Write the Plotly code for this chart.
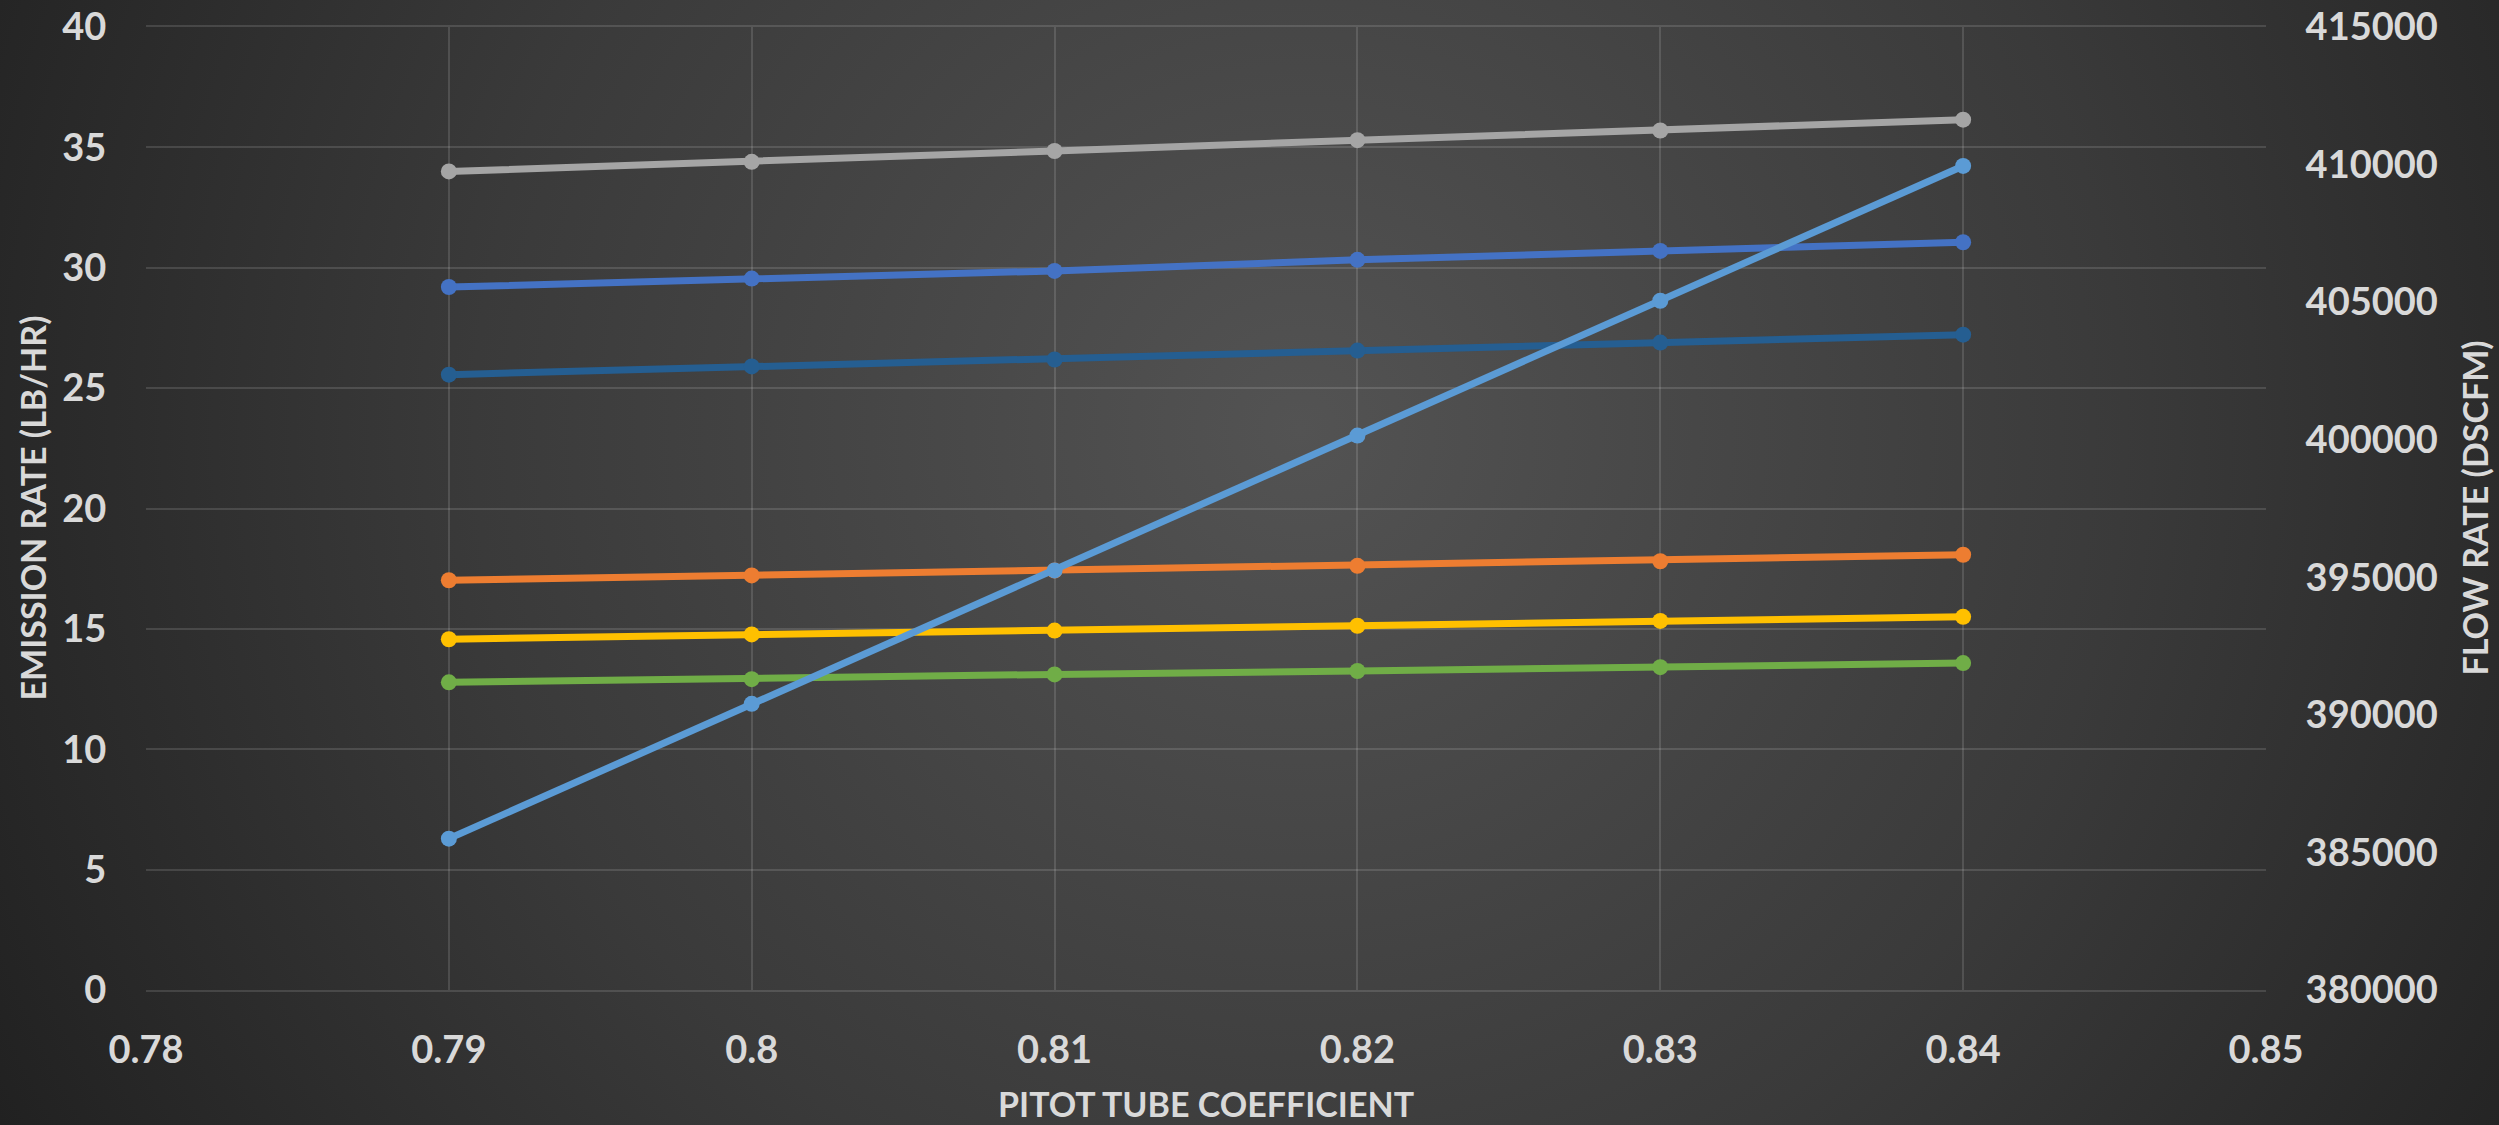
import base64
import plotly.graph_objects as go

# ---- data ----
pitot = [0.79, 0.80, 0.81, 0.82, 0.83, 0.84]
series_gray = [34.0, 34.4, 34.85, 35.3, 35.7, 36.15]
series_blue = [29.2, 29.55, 29.87, 30.33, 30.7, 31.06]
series_darkblue = [25.56, 25.9, 26.19, 26.56, 26.89, 27.22]
series_orange = [17.02, 17.22, 17.42, 17.62, 17.81, 18.08]
series_yellow = [14.57, 14.77, 14.93, 15.13, 15.33, 15.5]
series_green = [12.78, 12.91, 13.11, 13.25, 13.41, 13.58]
flow_rate = [385500, 390400, 395250, 400150, 405050, 409950]

x_ticks = [0.78, 0.79, 0.80, 0.81, 0.82, 0.83, 0.84, 0.85]
x_ticklabels = ["0.78", "0.79", "0.8", "0.81", "0.82", "0.83", "0.84", "0.85"]
y_ticks = [0, 5, 10, 15, 20, 25, 30, 35, 40]
y2_ticks = [380000, 385000, 390000, 395000, 400000, 405000, 410000, 415000]

W, H = 2499, 1125
L, R, T, B = 146, 233, 27, 135
FONT = "Lato"
TXT = "#D9D9D9"
GRID = "rgba(255,255,255,0.13)"

fig = go.Figure()

left_series = [
    (series_gray, "#A5A5A5"),
    (series_blue, "#4472C4"),
    (series_darkblue, "#255E91"),
    (series_orange, "#ED7D31"),
    (series_yellow, "#FFC000"),
    (series_green, "#70AD47"),
]
for vals, col in left_series:
    fig.add_trace(go.Scatter(x=pitot, y=vals, mode="lines+markers",
                             line=dict(color=col, width=7),
                             marker=dict(color=col, size=16),
                             showlegend=False, yaxis="y"))

fig.add_trace(go.Scatter(x=pitot, y=flow_rate, mode="lines+markers",
                         line=dict(color="#5B9BD5", width=7),
                         marker=dict(color="#5B9BD5", size=16),
                         showlegend=False, yaxis="y2"))

# radial gradient background
svg = f'''<svg xmlns="http://www.w3.org/2000/svg" width="{W}" height="{H}" viewBox="0 0 {W} {H}" preserveAspectRatio="none">
<defs><radialGradient id="g" cx="1300" cy="430" r="1500" gradientUnits="userSpaceOnUse">
<stop offset="0" stop-color="#535353"/><stop offset="0.55" stop-color="#3a3a3a"/><stop offset="1" stop-color="#202020"/>
</radialGradient></defs><rect width="{W}" height="{H}" fill="url(#g)"/></svg>'''
src = "data:image/svg+xml;base64," + base64.b64encode(svg.encode()).decode()
pw, ph = W - L - R, H - T - B
fig.add_layout_image(dict(source=src, xref="paper", yref="paper",
                          x=-L / pw, y=1 + T / ph, sizex=W / pw, sizey=H / ph,
                          xanchor="left", yanchor="top", sizing="stretch",
                          layer="below"))

tick_font = dict(family=FONT, size=38, color=TXT, weight=700)
title_font = dict(family=FONT, size=34, color=TXT, weight=900)

def bold(labels):
    return [f"<b>{t}</b>" for t in labels]

fig.update_layout(
    width=W, height=H,
    margin=dict(l=L, r=R, t=T, b=B, autoexpand=False),
    paper_bgcolor="#2b2b2b",
    plot_bgcolor="rgba(0,0,0,0)",
    font=dict(family=FONT, color=TXT),
    xaxis=dict(range=[0.78, 0.85], tickvals=x_ticks, ticktext=bold(x_ticklabels),
               showgrid=True, gridcolor=GRID, gridwidth=2,
               showline=True, linecolor=GRID, linewidth=2, mirror=True,
               zeroline=False, ticks="outside", ticklen=25, tickcolor="rgba(0,0,0,0)",
               tickfont=tick_font, automargin=False),
    yaxis=dict(range=[0, 40], tickvals=y_ticks, ticktext=bold([str(v) for v in y_ticks]),
               showgrid=True, gridcolor=GRID, gridwidth=2,
               zeroline=False, ticks="outside", ticklen=31, tickcolor="rgba(0,0,0,0)",
               tickfont=tick_font, automargin=False),
    yaxis2=dict(range=[380000, 415000], tickvals=y2_ticks,
                ticktext=bold([str(v) for v in y2_ticks]), overlaying="y", side="right",
                showgrid=False, zeroline=False, ticks="outside", ticklen=31,
                tickcolor="rgba(0,0,0,0)", tickfont=tick_font, automargin=False),
)

fig.add_annotation(text="<b>PITOT TUBE COEFFICIENT</b>", xref="paper", yref="paper",
                   x=0.5, y=-(1103 - (H - B)) / ph, xanchor="center", yanchor="middle",
                   showarrow=False, font=title_font)
fig.add_annotation(text="<b>EMISSION RATE (LB/HR)</b>", xref="paper", yref="paper",
                   x=-(L - 32) / pw, y=0.5, xanchor="center", yanchor="middle",
                   textangle=-90, showarrow=False, font=title_font)
fig.add_annotation(text="<b>FLOW RATE (DSCFM)</b>", xref="paper", yref="paper",
                   x=1 + (2474 - (W - R)) / pw, y=0.5, xanchor="center", yanchor="middle",
                   textangle=-90, showarrow=False, font=title_font)

fig.write_html("out.html", config={"displayModeBar": False},
               post_script="document.body.style.margin='0';document.body.style.overflow='hidden';")
